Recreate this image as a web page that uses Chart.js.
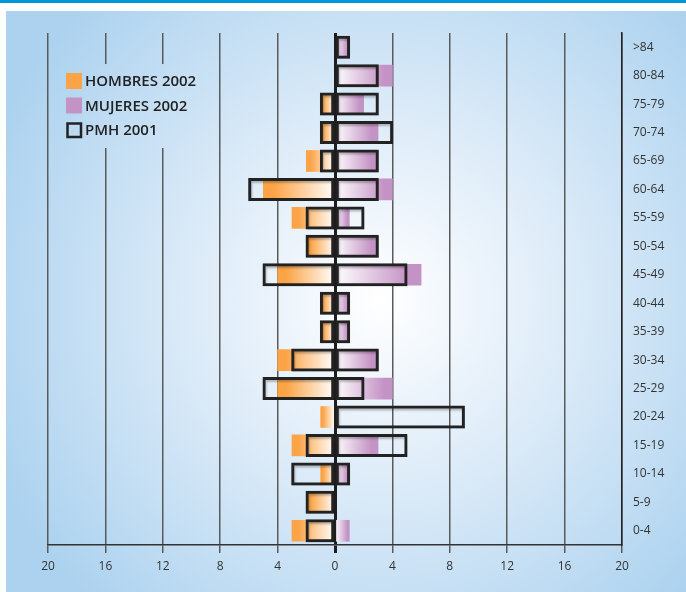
<!DOCTYPE html>
<html>
<head>
<meta charset="utf-8">
<script src="https://cdn.jsdelivr.net/npm/chart.js@4"></script>
<style>
  html, body { margin: 0; padding: 0; background: #fff; }
  #wrap { width: 686px; height: 592px; position: relative; }
</style>
</head>
<body>
<div id="wrap"><canvas id="pyramid"></canvas></div>
<script>
const ageGroups = ['>84', '80-84', '75-79', '70-74', '65-69', '60-64', '55-59', '50-54', '45-49',
                   '40-44', '35-39', '30-34', '25-29', '20-24', '15-19', '10-14', '5-9', '0-4'];
const hombres2002    = [0, 0, 1, 1, 2, 5, 3, 2, 4, 1, 1, 4, 4, 1, 3, 1, 2, 3];
const mujeres2002    = [1, 4, 2, 3, 3, 4, 1, 3, 6, 1, 1, 3, 4, 0, 3, 1, 0, 1];
const pmhHombres2001 = [0, 0, 1, 1, 1, 6, 2, 2, 5, 1, 1, 3, 5, 0, 2, 3, 2, 2];
const pmhMujeres2001 = [1, 3, 3, 4, 3, 3, 2, 3, 5, 1, 1, 3, 2, 9, 5, 1, 0, 0];
const xTicks = [-20, -16, -12, -8, -4, 0, 4, 8, 12, 16, 20];

const ORANGE = '#fba447';
const PURPLE = '#c493c5';
const OUTLINE = '#222222';
const FONT = "'Open Sans', 'DejaVu Sans', sans-serif";

function panelGradient(ctx) {
  const g = ctx.createRadialGradient(380, 300, 0, 380, 300, 420);
  g.addColorStop(0, '#ffffff');
  g.addColorStop(0.45, '#dcebf8');
  g.addColorStop(1, '#acd2ef');
  return g;
}

// colour fades from the outer end of the bar towards the zero line
function fadeToWhite(colour) {
  return (c) => {
    const chart = c.chart;
    if (c.type === 'data' && !c.raw) return 'rgba(0,0,0,0)';
    if (!chart.chartArea || c.type !== 'data') return colour;
    const x0 = chart.scales.x.getPixelForValue(0);
    const x1 = chart.scales.x.getPixelForValue(c.raw);
    const g = chart.ctx.createLinearGradient(x1, 0, x0, 0);
    g.addColorStop(0, colour);
    g.addColorStop(0.15, colour);
    g.addColorStop(1, '#ffffff');
    return g;
  };
}

const backdrop = {
  id: 'backdrop',
  beforeDraw(chart) {
    const ctx = chart.ctx;
    ctx.save();
    ctx.fillStyle = '#ffffff';
    ctx.fillRect(0, 0, chart.width, chart.height);
    ctx.fillStyle = '#0096da';
    ctx.fillRect(0, 0, chart.width, 3);
    ctx.fillStyle = panelGradient(ctx);
    ctx.fillRect(6, 11, chart.width - 6, chart.height - 11);
    ctx.restore();
  }
};

const legendItems = [
  { text: 'HOMBRES 2002', fill: ORANGE },
  { text: 'MUJERES 2002', fill: PURPLE },
  { text: 'PMH 2001', stroke: OUTLINE }
];

const boxLegend = {
  id: 'boxLegend',
  beforeDatasetsDraw(chart) {
    const ctx = chart.ctx;
    ctx.save();
    // clear the grid behind the legend
    ctx.fillStyle = panelGradient(ctx);
    ctx.fillRect(58, 64, 148, 84);
    ctx.font = '600 15px ' + FONT;
    ctx.textBaseline = 'middle';
    legendItems.forEach((item, i) => {
      const y = 73 + i * 24.5;
      if (item.fill) {
        ctx.fillStyle = item.fill;
        ctx.fillRect(66, y, 16, 16);
      } else {
        ctx.strokeStyle = item.stroke;
        ctx.lineWidth = 2.5;
        ctx.strokeRect(67.5, y + 1.5, 13.5, 13.5);
      }
      ctx.fillStyle = '#222';
      ctx.fillText(item.text, 85, y + 9);
    });
    ctx.restore();
  },
  beforeDatasetDraw(chart, args) {
    if (!chart.data.datasets[args.index].shadow) return;
    const ctx = chart.ctx;
    ctx.save();
    ctx.shadowColor = 'rgba(0, 0, 0, 0.25)';
    ctx.shadowOffsetX = 1;
    ctx.shadowOffsetY = 2;
    ctx.shadowBlur = 2;
  },
  afterDatasetDraw(chart, args) {
    if (chart.data.datasets[args.index].shadow) chart.ctx.restore();
  }
};

const fillBar = { barThickness: 21, grouped: false, order: 2, borderWidth: 0 };
// border + inflate gives a 3px stroke lying close to the value edge
const outlineBar = {
  barThickness: 21.5, grouped: false, order: 1, shadow: true, inflateAmount: 0.75,
  backgroundColor: 'rgba(0,0,0,0)', borderColor: OUTLINE, borderWidth: 1.5, borderSkipped: false
};

new Chart(document.getElementById('pyramid'), {
  type: 'bar',
  data: {
    labels: ageGroups,
    datasets: [
      { ...fillBar, label: 'HOMBRES 2002', data: hombres2002.map(v => -v), backgroundColor: fadeToWhite(ORANGE) },
      { ...fillBar, label: 'MUJERES 2002', data: mujeres2002, backgroundColor: fadeToWhite(PURPLE) },
      { ...outlineBar, label: 'PMH 2001', data: pmhHombres2001.map(v => -v) },
      { ...outlineBar, label: 'PMH 2001', data: pmhMujeres2001 }
    ]
  },
  options: {
    indexAxis: 'y',
    responsive: true,
    maintainAspectRatio: false,
    animation: false,
    layout: { padding: { left: 48, top: 33, right: 0, bottom: 0 } },
    plugins: {
      legend: { display: false },
      tooltip: { enabled: false }
    },
    scales: {
      x: {
        min: -20,
        max: 20,
        afterBuildTicks: (scale) => { scale.ticks = xTicks.map(v => ({ value: v })); },
        afterFit: (scale) => { scale.height = 47; },
        grid: {
          color: (c) => c.tick && c.tick.value === 0 ? '#1e1e1e' : '#5a5a5a',
          lineWidth: (c) => c.tick && c.tick.value === 0 ? 3 : 1.5,
          tickLength: 8
        },
        border: { display: true, color: '#333', width: 1.5 },
        ticks: {
          color: '#333',
          padding: 6,
          font: { family: FONT, size: 12 },
          callback: (v) => Math.abs(v)
        }
      },
      y: {
        position: 'right',
        afterFit: (scale) => { scale.width = 64; },
        grid: { display: false },
        border: { display: true, color: '#222', width: 1.5 },
        ticks: {
          color: '#333',
          padding: 3,
          font: { family: FONT, size: 12 }
        }
      }
    }
  },
  plugins: [backdrop, boxLegend]
});
</script>
</body>
</html>
